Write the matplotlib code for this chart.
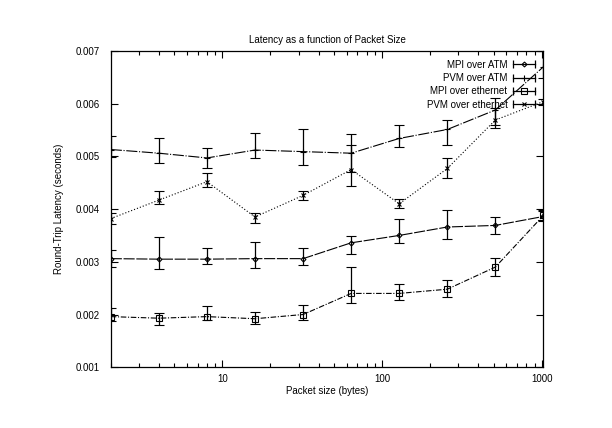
import numpy as np
import matplotlib
matplotlib.use("Agg")
import matplotlib.pyplot as plt
from matplotlib.lines import Line2D
from matplotlib.legend_handler import HandlerBase

# packet sizes (bytes)
size = [2, 4, 8, 16, 32, 64, 128, 256, 512, 1024]

# round-trip latency (seconds), with low / high ends of the error bars
mpi_atm = [0.00306, 0.00305, 0.00305, 0.00306, 0.00306, 0.00336, 0.00350, 0.00366, 0.00369, 0.00386]
mpi_atm_lo = [0.00290, 0.00286, 0.00295, 0.00289, 0.00293, 0.00315, 0.00336, 0.00343, 0.00353, 0.00378]
mpi_atm_hi = [0.00322, 0.00347, 0.00327, 0.00338, 0.00327, 0.00348, 0.00382, 0.00399, 0.00385, 0.00398]

pvm_atm = [0.00513, 0.00506, 0.00497, 0.00512, 0.00509, 0.00506, 0.00534, 0.00551, 0.00588, 0.00670]
pvm_atm_lo = [0.00499, 0.00488, 0.00478, 0.00496, 0.00483, 0.00444, 0.00517, 0.00521, 0.00559, 0.00648]
pvm_atm_hi = [0.00539, 0.00534, 0.00515, 0.00545, 0.00551, 0.00542, 0.00560, 0.00569, 0.00610, 0.00699]

mpi_eth = [0.00196, 0.00193, 0.00196, 0.00192, 0.00200, 0.00240, 0.00240, 0.00248, 0.00290, 0.00388]
mpi_eth_lo = [0.00187, 0.00180, 0.00189, 0.00182, 0.00189, 0.00222, 0.00228, 0.00233, 0.00273, 0.00380]
mpi_eth_hi = [0.00212, 0.00203, 0.00216, 0.00204, 0.00218, 0.00291, 0.00258, 0.00265, 0.00307, 0.00396]

pvm_eth = [0.00382, 0.00417, 0.00452, 0.00385, 0.00426, 0.00475, 0.00410, 0.00477, 0.00569, 0.00604]
pvm_eth_lo = [0.00372, 0.00409, 0.00442, 0.00374, 0.00417, 0.00470, 0.00402, 0.00459, 0.00554, 0.00597]
pvm_eth_hi = [0.00392, 0.00434, 0.00469, 0.00392, 0.00434, 0.00521, 0.00420, 0.00497, 0.00592, 0.00608]

labels = ["MPI over ATM", "PVM over ATM", "MPI over ethernet", "PVM over ethernet"]


# gnuplot style key sample:  |--o--|
class CapHandler(HandlerBase):
    def create_artists(self, legend, orig, xd, yd, width, height, fontsize, trans):
        y = yd + height / 2
        x0, x1 = xd, xd + width
        line = Line2D([x0, x1], [y, y], color='k', lw=0.9, transform=trans)
        caps = Line2D([x0, x1], [y, y], ls='none', marker='|', ms=6, mew=0.9,
                      color='k', transform=trans)
        mk = Line2D([(x0 + x1) / 2], [y], ls='none', marker=orig.get_marker(),
                    ms=orig.get_markersize(), mfc='none', mec='k', mew=0.8,
                    transform=trans)
        return [line, caps, mk]


plt.rcParams['font.family'] = ['Liberation Sans', 'DejaVu Sans']
plt.rcParams['font.size'] = 7

fig = plt.figure(figsize=(6.12, 4.28), dpi=100)
ax = fig.add_axes([0.181, 0.142, 0.707, 0.739])

series = [
    (mpi_atm, mpi_atm_lo, mpi_atm_hi, 'D', 2.5, (0, (10, 1.5))),
    (pvm_atm, pvm_atm_lo, pvm_atm_hi, '+', 5, (0, (10, 1.5, 1, 1.5))),
    (mpi_eth, mpi_eth_lo, mpi_eth_hi, 's', 4, (0, (5, 1.5, 1, 1.5))),
    (pvm_eth, pvm_eth_lo, pvm_eth_hi, 'x', 3.5, (0, (1, 1.8))),
]

handles = []
for (y, lo, hi, mk, ms, ls), lab in zip(series, labels):
    y = np.array(y)
    yerr = [y - np.array(lo), np.array(hi) - y]
    ax.errorbar(size, y, yerr=yerr, fmt=mk, ms=ms, mfc='none', mec='k', mew=0.8,
                ecolor='k', elinewidth=0.9, capsize=3.5, capthick=0.9)
    ax.plot(size, y, color='k', lw=0.8, linestyle=ls)
    handles.append(Line2D([], [], marker=mk, ms=ms, color='k', label=lab))

ax.set_xscale('log')
ax.set_xlim(2, 1024)
ax.set_ylim(0.001, 0.007)
ax.set_yticks([0.001, 0.002, 0.003, 0.004, 0.005, 0.006, 0.007])
ax.set_yticklabels(["0.001", "0.002", "0.003", "0.004", "0.005", "0.006", "0.007"])
ax.set_xticks([10, 100, 1000])
ax.set_xticklabels(["10", "100", "1000"])

ax.tick_params(which='both', direction='in', top=True, right=True, width=0.8)
ax.tick_params(which='major', length=5)
ax.tick_params(axis='y', which='major', pad=8)
ax.tick_params(axis='x', which='major', pad=5)
ax.tick_params(which='minor', length=3)
for s in ax.spines.values():
    s.set_linewidth(0.9)

ax.set_title("Latency as a function of Packet Size", fontsize=7, pad=6)
ax.set_xlabel("Packet size (bytes)", labelpad=1)
ax.set_ylabel("Round-Trip Latency (seconds)", labelpad=8)

leg = ax.legend(handles=handles, loc='upper right', frameon=False, markerfirst=False,
                handlelength=2.2, handletextpad=0.6, labelspacing=0.35,
                borderaxespad=0.5, fontsize=7,
                handler_map={Line2D: CapHandler()})

fig.savefig("out.png", dpi=100)
